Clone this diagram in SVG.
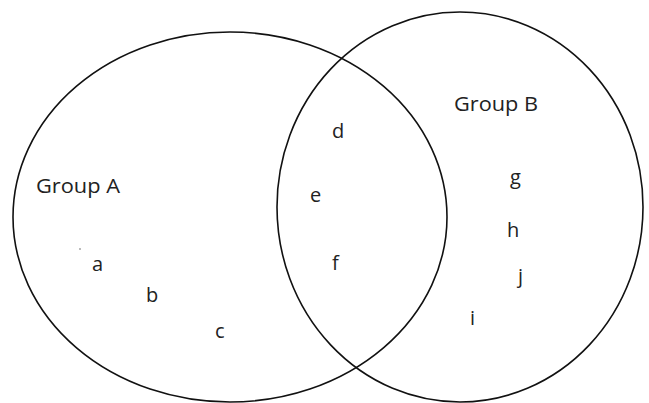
<svg xmlns="http://www.w3.org/2000/svg" width="649" height="403" viewBox="0 0 649 403">
  <style>
    .set { fill: none; stroke: #111; stroke-width: 1.6; }
    .lbl { font-family: "Open Sans", "Noto Sans", "DejaVu Sans", sans-serif; font-size: 20px; fill: #222; }
  </style>
  <rect width="649" height="403" fill="#fff"/>
  <g id="sets">
    <ellipse id="setA" class="set" cx="230" cy="217" rx="217" ry="185"/>
    <ellipse id="setB" class="set" cx="460" cy="207" rx="183" ry="195"/>
  </g>
  <g id="labels">
    <text class="lbl" x="36" y="193" textLength="84" lengthAdjust="spacingAndGlyphs">Group A</text>
    <text class="lbl" x="454" y="111" textLength="84" lengthAdjust="spacingAndGlyphs">Group B</text>
    <text class="lbl" x="92" y="271">a</text>
    <text class="lbl" x="146" y="302">b</text>
    <text class="lbl" x="215" y="338">c</text>
    <text class="lbl" x="332" y="138">d</text>
    <text class="lbl" x="310" y="202">e</text>
    <text class="lbl" x="332" y="270">f</text>
    <text class="lbl" x="510" y="184">g</text>
    <text class="lbl" x="507" y="237">h</text>
    <text class="lbl" x="470" y="325">i</text>
    <text class="lbl" x="518" y="283">j</text>
  </g>
  <circle cx="80" cy="249" r="0.7" fill="#444"/>
</svg>
